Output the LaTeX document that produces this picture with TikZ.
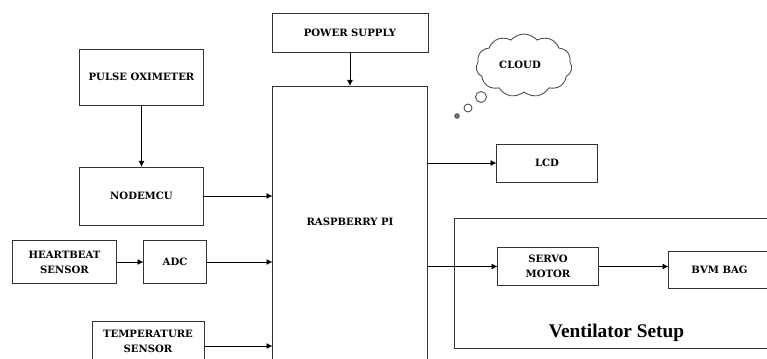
\documentclass[tikz,border=0pt]{standalone}
\usepackage{fontspec}
\setmainfont{DejaVu Serif}
\newfontfamily\titlefont{Liberation Serif}
\usepackage{xcolor}
\usetikzlibrary{arrows.meta,shapes.symbols}

\begin{document}
\begin{tikzpicture}[
    box/.style={draw=black!80, line width=0.55pt, inner sep=0pt, outer sep=0pt, align=center, font=\fontsize{5.75}{8.6}\selectfont\bfseries},
    txt/.style={font=\fontsize{5.75}{8.6}\selectfont\bfseries},
    bubble/.style={draw=black!70, circle, line width=0.5pt, inner sep=0pt},
    arr/.style={-{Latex[length=1.2mm,width=1.2mm]}, line width=0.5pt}
]
\useasboundingbox (0,0) rectangle (15.34,7.16);
\clip (0,0) rectangle (15.34,7.16);

% Ventilator frame, runs off the right edge
\node[box, minimum width=7.2cm, minimum height=2.6cm] (vent) at (12.69,1.49) {};
\node[font=\fontsize{11}{13}\selectfont\bfseries\titlefont] (ventlabel) at (12.33,0.5) {Ventilator Setup};

% Controller
\node[box, minimum width=3.1cm, minimum height=6cm] (rpi) at (7.0,2.44) {};
\node[txt] (rpilabel) at (7.0,2.72) {RASPBERRY PI};
\node[box, minimum width=3.12cm, minimum height=0.78cm] (power) at (7.0,6.51) {POWER SUPPLY};
\draw[arr] (power) -- (power |- rpi.north);

% Inputs
\node[box, minimum width=2.48cm, minimum height=1.12cm] (pulse) at (2.83,5.62) {PULSE OXIMETER};
\node[box, minimum width=2.48cm, minimum height=1.16cm] (nodemcu) at (2.83,3.24) {NODEMCU};
\node[box, minimum width=2.08cm, minimum height=0.85cm] (heart) at (1.29,1.92) {HEARTBEAT\\SENSOR};
\node[box, minimum width=1.26cm, minimum height=0.85cm] (adc) at (3.5,1.92) {ADC};
\node[box, minimum width=2.24cm, minimum height=0.8cm] (temp) at (2.96,0.33) {TEMPERATURE\\SENSOR};
\draw[arr] (pulse) -- (nodemcu);
\draw[arr] (nodemcu) -- (nodemcu -| rpi.west);
\draw[arr] (heart) -- (adc);
\draw[arr] (adc) -- (adc -| rpi.west);
\draw[arr] ([yshift=-0.09cm]temp.east) -- ([yshift=-0.09cm]temp.east -| rpi.west);

% Outputs
\node[box, minimum width=2.02cm, minimum height=0.76cm] (lcd) at (10.94,3.9) {LCD};
\node[box, minimum width=2.02cm, minimum height=0.76cm] (servo) at (10.96,1.83) {SERVO\\MOTOR};
\node[box, minimum width=2.04cm, minimum height=0.74cm] (bvm) at (14.39,1.77) {BVM BAG};
\draw[arr] (lcd -| rpi.east) -- (lcd);
\draw[arr] (servo -| rpi.east) -- (servo);
\draw[arr] (servo) -- (servo -| bvm.west);

% Cloud and its bubbles
\node[cloud, draw=black!70, line width=0.5pt, cloud puffs=11, cloud puff arc=100, aspect=1.5, inner sep=0pt, minimum width=1.92cm, minimum height=1.26cm] (cloud) at (10.48,5.85) {};
\node[txt] (cloudlabel) at (10.4,5.86) {CLOUD};
\node[bubble, minimum size=0.22cm] (bubblea) at (9.62,5.22) {};
\node[bubble, minimum size=0.16cm] (bubbleb) at (9.36,5.0) {};
\node[bubble, fill=black!55, minimum size=0.09cm] (bubblec) at (9.14,4.84) {};
\end{tikzpicture}
\end{document}
